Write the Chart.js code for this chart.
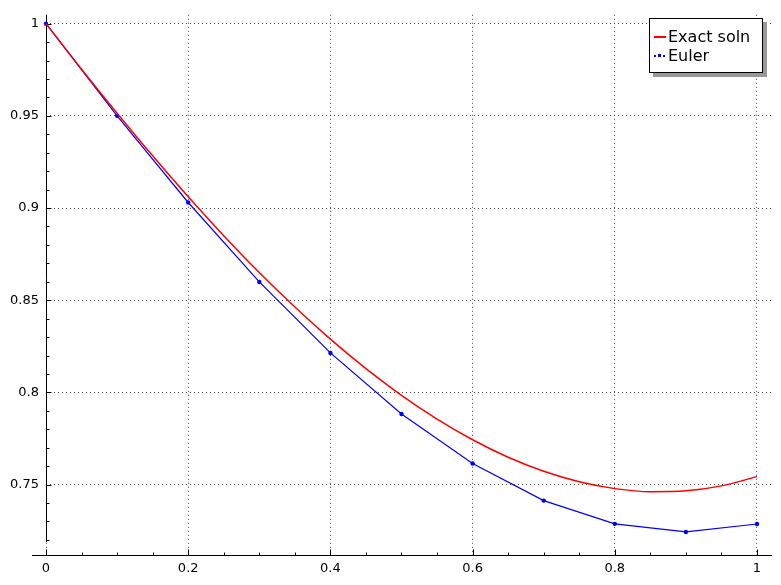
<!DOCTYPE html>
<html>
<head>
<meta charset="utf-8">
<script src="https://cdn.jsdelivr.net/npm/chart.js@4/dist/chart.umd.min.js"></script>
<style>
  html, body { margin: 0; padding: 0; background: #fff; }
  #wrap { position: relative; width: 781px; height: 585px; }
  #legend {
    position: absolute; left: 649px; top: 18px; width: 112px; height: 53px;
    border: 1px solid #000; background: #fff; box-shadow: 4px 4px 0 #999;
    font: 16px "DejaVu Sans", sans-serif; color: #000;
  }
  #legend .row { position: absolute; left: 18px; height: 19px; line-height: 19px; white-space: nowrap; }
  #legend .mark { position: absolute; left: -14px; width: 12px; height: 2px; top: 9px; }
  #legend .dot { position: absolute; width: 2px; height: 2px; background: #0000ff; top: 9px; }
</style>
</head>
<body>
<div id="wrap">
  <canvas id="plot" width="781" height="585"></canvas>
  <div id="legend"></div>
</div>
<script>
  // Euler step points (h = 0.1) and the exact solution sampled every 0.05
  const eulerX = [0, 0.1, 0.2, 0.3, 0.4, 0.5, 0.6, 0.7, 0.8, 0.9, 1.0];
  const eulerY = [1, 0.95, 0.903, 0.8599, 0.8214, 0.7883, 0.7614, 0.7413, 0.7287, 0.7243, 0.7286];

  const exactX = [0, 0.05, 0.1, 0.15, 0.2, 0.25, 0.3, 0.35, 0.4, 0.45, 0.5,
                  0.55, 0.6, 0.65, 0.7, 0.75, 0.8, 0.85, 0.9, 0.95, 1.0];
  const exactY = [1, 0.9753, 0.9514, 0.9283, 0.9061, 0.8850, 0.8650, 0.8463, 0.8289, 0.8129, 0.7984,
                  0.7855, 0.7743, 0.7648, 0.7572, 0.7515, 0.7478, 0.7461, 0.7466, 0.7493, 0.7543];

  const xTicks = [0, 0.2, 0.4, 0.6, 0.8, 1];
  const yTicks = [0.75, 0.8, 0.85, 0.9, 0.95, 1];
  const labels = ["Exact soln", "Euler"];

  const FONT = '"DejaVu Sans", sans-serif';

  // sage style axes: y axis at x = 0, x axis along the bottom, ticks pointing inwards
  const axesPlugin = {
    id: "sageAxes",
    beforeDatasetsDraw(chart) {
      const { ctx, chartArea, scales } = chart;
      const xs = scales.x, ys = scales.y;
      const x0 = Math.round(xs.getPixelForValue(0)) + 0.5;
      const yb = Math.round(chartArea.bottom) + 0.5;
      ctx.save();
      ctx.strokeStyle = "#000";
      ctx.lineWidth = 1;
      ctx.beginPath();
      ctx.moveTo(x0, chartArea.top);
      ctx.lineTo(x0, ys.getPixelForValue(0.7188));
      ctx.moveTo(xs.getPixelForValue(-0.0197), yb);
      ctx.lineTo(chartArea.right, yb);
      for (let i = 72; i <= 100; i++) {
        const py = Math.round(ys.getPixelForValue(i / 100)) + 0.5;
        const len = i % 5 === 0 ? 5 : 3;
        ctx.moveTo(x0, py);
        ctx.lineTo(x0 + len, py);
      }
      for (let i = 0; i <= 20; i++) {
        const px = Math.round(xs.getPixelForValue(i / 20)) + 0.5;
        const len = i % 4 === 0 ? 6 : 3;
        ctx.moveTo(px, yb);
        ctx.lineTo(px, yb - len);
      }
      ctx.stroke();
      ctx.restore();
    }
  };

  const chart = new Chart(document.getElementById("plot"), {
    type: "line",
    data: {
      datasets: [
        {
          label: labels[0],
          data: exactX.map((x, i) => ({ x: x, y: exactY[i] })),
          borderColor: "#ff0000",
          borderWidth: 1.5,
          pointRadius: 0,
          cubicInterpolationMode: "monotone",
          fill: false,
        },
        {
          label: labels[1],
          data: eulerX.map((x, i) => ({ x: x, y: eulerY[i] })),
          borderColor: "#0000ff",
          backgroundColor: "#0000ff",
          borderWidth: 1.2,
          pointRadius: 2.2,
          pointBorderWidth: 0,
          tension: 0,
          fill: false,
        },
      ],
    },
    options: {
      responsive: false,
      animation: false,
      clip: false,
      layout: { padding: { left: 0, right: 9, top: 10, bottom: 0 } },
      plugins: { legend: { display: false }, tooltip: { enabled: false } },
      scales: {
        x: {
          type: "linear",
          min: 0,
          max: 1.0211,
          afterBuildTicks: (s) => { s.ticks = xTicks.map((v) => ({ value: v })); },
          afterFit: (s) => { s.height = 30; },
          border: { display: false, dash: [1, 3] },
          grid: { color: "#444", drawTicks: false, tickLength: 0 },
          ticks: {
            padding: 6,
            color: "#000",
            maxRotation: 0,
            autoSkip: false,
            font: { family: FONT, size: 13 },
            callback: (v) => String(+v.toFixed(2)),
          },
        },
        y: {
          type: "linear",
          position: "left",
          min: 0.7118,
          max: 1.0048,
          afterBuildTicks: (s) => { s.ticks = yTicks.map((v) => ({ value: v })); },
          afterFit: (s) => { s.width = 46; },
          border: { display: false, dash: [1, 3] },
          grid: { color: "#444", drawTicks: false, tickLength: 0 },
          ticks: {
            padding: 7,
            color: "#000",
            font: { family: FONT, size: 13 },
            callback: (v) => String(+v.toFixed(2)),
          },
        },
      },
    },
    plugins: [axesPlugin],
  });

  // legend box as html, like the sage one with its shadow
  const legend = document.getElementById("legend");
  legend.innerHTML =
    '<div class="row" style="top:8px"><span class="mark" style="background:#ff0000;height:1.5px"></span>' + labels[0] + '</div>' +
    '<div class="row" style="top:27px">' +
      '<span class="dot" style="left:-14px"></span><span class="dot" style="left:-10px;width:3px;height:3px;top:8px"></span><span class="dot" style="left:-5px"></span>' +
      labels[1] + '</div>';
</script>
</body>
</html>
